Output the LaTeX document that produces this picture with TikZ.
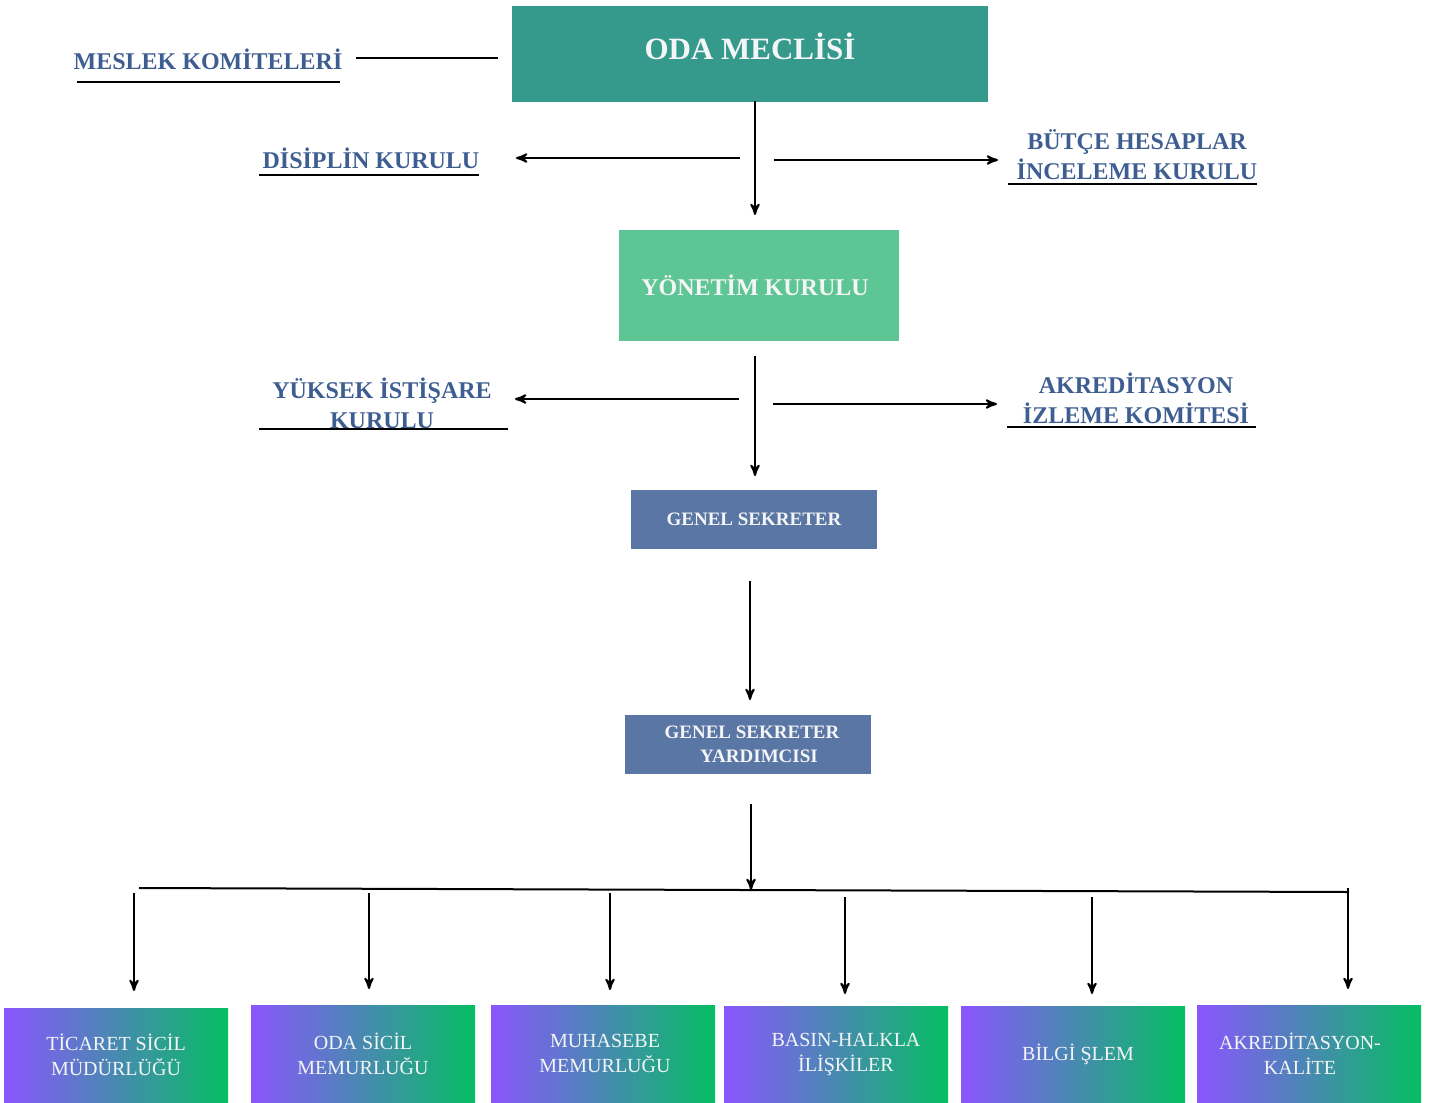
\documentclass[tikz,border=0pt]{standalone}
\usepackage{xcolor}
\usepackage{tikz}
\usepackage{fontspec}
\setmainfont{Liberation Serif}
\usetikzlibrary{arrows}
\usetikzlibrary{positioning}
\definecolor{odateal}{HTML}{35998B}
\definecolor{yongreen}{HTML}{5EC594}
\definecolor{sekblue}{HTML}{5A76A4}
\definecolor{lblblue}{HTML}{3E5E91}
\definecolor{boxtext}{HTML}{F4F5F6}
\definecolor{gradpurple}{HTML}{8A55FE}
\definecolor{gradgreen}{HTML}{05BE62}

\begin{document}
\begin{tikzpicture}[x=0.5pt, y=-0.5pt,
            line width=1pt, >=stealth',
            lbl/.style={font=\bfseries\fontsize{12}{15}\selectfont, text=lblblue, align=center, inner sep=0pt},
            topbox/.style={fill=#1, text=boxtext, align=center, inner sep=0pt, font=\bfseries},
            unit/.style={left color=gradpurple, right color=gradgreen, text=boxtext, align=center,
                inner sep=0pt, minimum width=112pt, font=\fontsize{10}{12.5}\selectfont}]
            \useasboundingbox (0, 0) rectangle (1433, 1102);
            \node[topbox=odateal, minimum width=238pt, text height=27pt, text depth=21pt, anchor=north, font=\bfseries\fontsize{15.5}{19}\selectfont] (oda) at (750, 5) {ODA MECL\.{I}S\.{I}};
            \node[topbox=yongreen, minimum width=140pt, minimum height=55.5pt, font=\bfseries\fontsize{12}{15}\selectfont] (yon) at (759, 285.5) {Y\"ONET\.{I}M KURULU\hspace*{4pt}};
            \node[topbox=sekblue, minimum width=123pt, minimum height=29.5pt, font=\bfseries\fontsize{9.5}{12}\selectfont] (gs) at (754, 519.5) {GENEL SEKRETER};
            \node[topbox=sekblue, minimum width=123pt, minimum height=29.5pt, font=\bfseries\fontsize{9.5}{12}\selectfont] (gsy) at (748, 744.5) {\hspace*{4pt}GENEL SEKRETER\\\hspace*{11pt}YARDIMCISI};

            \node[lbl] (meslek) at (208, 59) {MESLEK KOM\.{I}TELER\.{I}};
            \draw (77, 82) -- (340, 82);
            \node[lbl] (disiplin) at (371, 158) {D\.{I}S\.{I}PL\.{I}N KURULU};
            \draw (259, 175) -- (479, 175);
            \node[lbl] (butce) at (1137, 155) {B\"UT\c{C}E HESAPLAR\\\.{I}NCELEME KURULU};
            \draw (1008, 184) -- (1257, 184);
            \node[lbl] (yuksek) at (382, 403) {Y\"UKSEK \.{I}ST\.{I}\c{S}ARE\\KURULU};
            \draw (259, 429) -- (508, 429);
            \node[lbl] (akred) at (1136, 398) {AKRED\.{I}TASYON\\\.{I}ZLEME KOM\.{I}TES\.{I}};
            \draw (1007, 427) -- (1256, 427);

            \coordinate (m1) at (356, 58);
            \coordinate (m2) at (498, 58);
            \draw (m1) -- (m2);

            \coordinate (v1) at (755, 101);
            \coordinate (v2) at (755, 215);
            \draw [->] (v1) -- (v2);
            \coordinate (d1) at (740, 158);
            \coordinate (d2) at (516, 158);
            \draw [->] (d1) -- (d2);
            \coordinate (b1) at (774, 160);
            \coordinate (b2) at (998, 160);
            \draw [->] (b1) -- (b2);

            \coordinate (v3) at (755, 356);
            \coordinate (v4) at (755, 476);
            \draw [->] (v3) -- (v4);
            \coordinate (y1) at (739, 399);
            \coordinate (y2) at (515, 399);
            \draw [->] (y1) -- (y2);
            \coordinate (a1) at (773, 404);
            \coordinate (a2) at (997, 404);
            \draw [->] (a1) -- (a2);

            \coordinate (v5) at (750, 581);
            \coordinate (v6) at (750, 700);
            \draw [->] (v5) -- (v6);
            \coordinate (v7) at (751, 804);
            \coordinate (bus) at (751, 890);
            \draw [->] (v7) -- (bus);
            \coordinate (busl) at (139, 888);
            \coordinate (busr) at (1349, 892);
            \draw (busl) -- (busr);

            \node[unit, minimum height=47pt] (ticaret) at (116, 1055) {T\.{I}CARET S\.{I}C\.{I}L\\M\"UD\"URL\"U\u{G}\"U};
            \node[unit, minimum height=48.5pt] (odasicil) at (363, 1053.5) {ODA S\.{I}C\.{I}L\\MEMURLU\u{G}U};
            \node[unit, minimum height=48.5pt] (muhasebe) at (603, 1053.5) {\hspace*{2pt}MUHASEBE\\\hspace*{2pt}MEMURLU\u{G}U};
            \node[unit, minimum height=48pt] (basin) at (836, 1054) {\hspace*{10pt}BASIN-HALKLA\\\hspace*{10pt}\.{I}L\.{I}\c{S}K\.{I}LER};
            \node[unit, minimum height=48pt] (bilgi) at (1073, 1054) {\hspace*{5pt}B\.{I}LG\.{I} \c{S}LEM};
            \node[unit, minimum height=48.5pt] (akkal) at (1309, 1053.5) {AKRED\.{I}TASYON-\hspace*{9pt}\\KAL\.{I}TE\hspace*{9pt}};

            \draw [->] (134, 893) -- (134, 991);
            \draw [->] (369, 893) -- (369, 989);
            \draw [->] (610, 893) -- (610, 990);
            \draw [->] (845, 897) -- (845, 994);
            \draw [->] (1092, 897) -- (1092, 994);
            \draw [->] (1348, 888) -- (1348, 989);
        \end{tikzpicture}
\end{document}
